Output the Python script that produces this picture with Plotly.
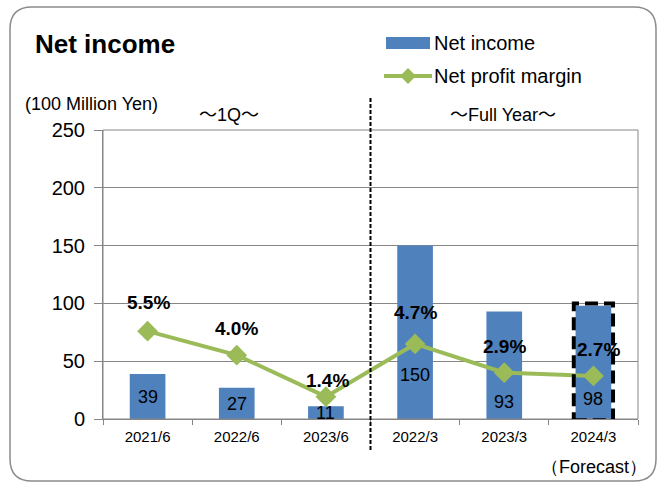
import plotly.graph_objects as go

categories = ["2021/6", "2022/6", "2023/6", "2022/3", "2023/3", "2024/3"]
net_income = [39, 27, 11, 150, 93, 98]
margin_pct = [5.5, 4.0, 1.4, 4.7, 2.9, 2.7]
income_label_y = [19, 13, 5, 38, 15, 17]
pct_label_shift = [(1, 29), (0, 27), (2, 16), (0, 31), (0, 26), (5, 26)]

BLUE = "#4F81BD"
GREEN = "#9BBB59"
FONT = "Liberation Sans, Arial, sans-serif"
CJK = "Noto Sans CJK JP"

W, H = 659, 485
L, R, T, B = 103, 21, 130, 66
PW, PH = W - L - R, H - T - B

def px2paper(px, py):
    return (px - L) / PW, (H - B - py) / PH

fig = go.Figure()
fig.add_trace(go.Bar(x=categories, y=net_income, name="Net income",
                     marker=dict(color=BLUE, line=dict(width=0)), width=0.4))
fig.add_trace(go.Scatter(x=categories, y=margin_pct, name="Net profit margin", yaxis="y2",
                         mode="lines+markers",
                         line=dict(color=GREEN, width=4),
                         marker=dict(symbol="diamond", size=16, color=GREEN)))

for c, v, ly in zip(categories, net_income, income_label_y):
    fig.add_annotation(x=c, y=ly, text=str(v), showarrow=False,
                       font=dict(family=FONT, size=18, color="#000000"))
for c, p, (dx, dy) in zip(categories, margin_pct, pct_label_shift):
    fig.add_annotation(x=c, y=p, yref="y2", text=f"{p:.1f}%", showarrow=False,
                       xshift=dx, yshift=dy,
                       font=dict(family=FONT, size=19, color="#000000", weight="bold"))

# outer rounded border
x0, y0, x1, y1, r = 10, 7, 656, 481, 22
rx = r / PW
ry = r / PH
ax0, ay0 = px2paper(x0, y0)
ax1, ay1 = px2paper(x1, y1)
path = (f"M {ax0+rx},{ay0} L {ax1-rx},{ay0} Q {ax1},{ay0} {ax1},{ay0-ry} "
        f"L {ax1},{ay1+ry} Q {ax1},{ay1} {ax1-rx},{ay1} "
        f"L {ax0+rx},{ay1} Q {ax0},{ay1} {ax0},{ay1+ry} "
        f"L {ax0},{ay0-ry} Q {ax0},{ay0} {ax0+rx},{ay0} Z")
fig.add_shape(type="path", path=path, xref="paper", yref="paper",
              line=dict(color="#8C8C8C", width=1.5), layer="below")

# plot area border
fig.add_shape(type="rect", xref="paper", yref="paper", x0=0, y0=0, x1=1, y1=1,
              line=dict(color="#868686", width=1))

# divider
dy0 = px2paper(0, 98)[1]
dy1 = px2paper(0, 452)[1]
fig.add_shape(type="line", xref="x", yref="paper", x0=2.5, x1=2.5, y0=dy0, y1=dy1,
              line=dict(color="#000000", width=2, dash="4px,2px"))

# forecast box
fig.add_shape(type="rect", xref="x", yref="y", x0=5 - 0.22, x1=5 + 0.22, y0=-1, y1=98 + 2,
              line=dict(color="#000000", width=4, dash="13px,6px"))

# custom legend
lx0, ly0 = px2paper(386, 37)
lx1, ly1 = px2paper(430, 49)
fig.add_shape(type="rect", xref="paper", yref="paper", x0=lx0, x1=lx1, y0=ly1, y1=ly0,
              fillcolor=BLUE, line=dict(width=0))
gx0, gy = px2paper(384, 76)
gx1, _ = px2paper(432, 76)
fig.add_shape(type="line", xref="paper", yref="paper", x0=gx0, x1=gx1, y0=gy, y1=gy,
              line=dict(color=GREEN, width=4))
cx, cy = px2paper(408, 76)
hx, hy = 8 / PW, 8 / PH
fig.add_shape(type="path", xref="paper", yref="paper",
              path=f"M {cx-hx},{cy} L {cx},{cy+hy} L {cx+hx},{cy} L {cx},{cy-hy} Z",
              fillcolor=GREEN, line=dict(width=0))

def ann(text, px, py, size, bold=False, xanchor="center"):
    ax, ay = px2paper(px, py)
    fig.add_annotation(x=ax, y=ay, xref="paper", yref="paper", text=text, showarrow=False,
                       xanchor=xanchor, yanchor="middle",
                       font=dict(family=FONT, size=size, color="#000000",
                                 weight="bold" if bold else "normal"))

tilde = f"<span style='font-family:{CJK}'>～</span>"
ann("Net income", 33, 44, 26, bold=True, xanchor="left")
ann("Net income", 432, 43, 20, xanchor="left")
ann("Net profit margin", 432, 76, 20, xanchor="left")
ann("(100 Million Yen)", 23, 104, 18, xanchor="left")
ann(f"{tilde}1Q{tilde}", 229, 113, 18)
ann(f"{tilde}Full Year{tilde}", 503, 113, 18)
ann("（Forecast）", 594, 467, 18)

fig.update_layout(
    width=W, height=H,
    margin=dict(l=L, r=R, t=T, b=B),
    paper_bgcolor="white", plot_bgcolor="white",
    font=dict(family=FONT, color="#000000"),
    showlegend=False,
    bargap=0.6,
    xaxis=dict(type="category", tickson="boundaries", ticks="outside", ticklen=5,
               tickcolor="#868686", showline=True, linecolor="#868686", linewidth=1,
               showgrid=False, ticklabelstandoff=4,
               tickfont=dict(size=15, family=FONT, color="#000000")),
    yaxis=dict(range=[0, 250], dtick=50, ticks="outside", ticklen=8, tickcolor="#868686",
               showline=True, linecolor="#868686", linewidth=1,
               gridcolor="#868686", gridwidth=1, zeroline=False, ticklabelstandoff=5,
               tickfont=dict(size=20, family=FONT, color="#000000")),
    yaxis2=dict(range=[0, 18.1], overlaying="y", side="right", visible=False),
)

fig.write_html("out.html", config={"displayModeBar": False},
               post_script="document.body.style.margin='0';")
